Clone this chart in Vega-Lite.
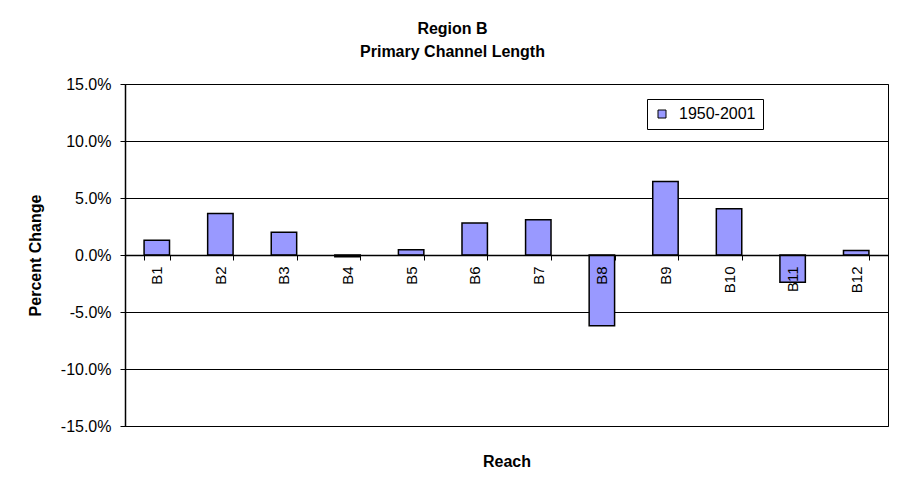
{
  "$schema": "https://vega.github.io/schema/vega-lite/v6.json",
  "width": 763,
  "height": 342,
  "autosize": "none",
  "padding": {"left": 125, "top": 84, "right": 16, "bottom": 60},
  "background": "white",
  "title": {
    "text": ["Region B", "Primary Channel Length"],
    "font": "Liberation Sans",
    "fontSize": 16,
    "fontWeight": "bold",
    "color": "black",
    "lineHeight": 23,
    "anchor": "middle",
    "dx": -54,
    "offset": 16
  },
  "data": {
    "values": [
      {"reach": "B1", "period": "1950-2001", "change": 0.013},
      {"reach": "B2", "period": "1950-2001", "change": 0.0365},
      {"reach": "B3", "period": "1950-2001", "change": 0.02},
      {"reach": "B4", "period": "1950-2001", "change": -0.0015},
      {"reach": "B5", "period": "1950-2001", "change": 0.0045},
      {"reach": "B6", "period": "1950-2001", "change": 0.028},
      {"reach": "B7", "period": "1950-2001", "change": 0.031},
      {"reach": "B8", "period": "1950-2001", "change": -0.062},
      {"reach": "B9", "period": "1950-2001", "change": 0.0645},
      {"reach": "B10", "period": "1950-2001", "change": 0.0405},
      {"reach": "B11", "period": "1950-2001", "change": -0.024},
      {"reach": "B12", "period": "1950-2001", "change": 0.004}
    ]
  },
  "mark": {"type": "bar", "stroke": "black", "strokeWidth": 1.5},
  "encoding": {
    "x": {
      "field": "reach",
      "type": "nominal",
      "sort": null,
      "scale": {"paddingInner": 0.6, "paddingOuter": 0.3},
      "axis": {
        "orient": "bottom",
        "offset": -171,
        "zindex": 1,
        "title": "Reach",
        "titleFont": "Liberation Sans",
        "titleFontSize": 16,
        "titleFontWeight": "bold",
        "titleColor": "black",
        "titleY": 206,
        "titleBaseline": "middle",
        "domainColor": "black",
        "domainWidth": 1.5,
        "tickColor": "black",
        "tickWidth": 1,
        "tickSize": 5,
        "tickBand": "extent",
        "labelAngle": -90,
        "labelAlign": "right",
        "labelBaseline": "middle",
        "labelPadding": 6,
        "labelFont": "Liberation Sans",
        "labelFontSize": 15,
        "labelColor": "black",
        "grid": false
      }
    },
    "y": {
      "field": "change",
      "type": "quantitative",
      "scale": {"domain": [-0.15, 0.15], "nice": false},
      "axis": {
        "values": [-0.15, -0.1, -0.05, 0, 0.05, 0.1, 0.15],
        "labelExpr": "replace(format(datum.value, '.1%'), '\u2212', '-')",
        "title": "Percent Change",
        "titleFont": "Liberation Sans",
        "titleFontSize": 16,
        "titleFontWeight": "bold",
        "titleColor": "black",
        "titleX": -90,
        "titleY": 171,
        "titleAngle": -90,
        "titleAlign": "center",
        "titleBaseline": "middle",
        "domainColor": "black",
        "domainWidth": 1.5,
        "tickColor": "black",
        "tickSize": 5,
        "labelPadding": 9,
        "labelFont": "Liberation Sans",
        "labelFontSize": 16,
        "labelColor": "black",
        "grid": true,
        "gridColor": "black",
        "gridWidth": 1
      }
    },
    "color": {
      "field": "period",
      "type": "nominal",
      "scale": {"range": ["#9999FF"]},
      "legend": {
        "title": null,
        "orient": "none",
        "legendX": 522,
        "legendY": 15,
        "padding": 7,
        "strokeColor": "black",
        "fillColor": "white",
        "symbolType": "square",
        "symbolSize": 64,
        "symbolStrokeColor": "black",
        "symbolStrokeWidth": 1,
        "symbolOpacity": 1,
        "labelFont": "Liberation Sans",
        "labelFontSize": 16,
        "labelColor": "black",
        "labelOffset": 9
      }
    }
  },
  "config": {
    "view": {"stroke": "black", "strokeWidth": 1}
  }
}
